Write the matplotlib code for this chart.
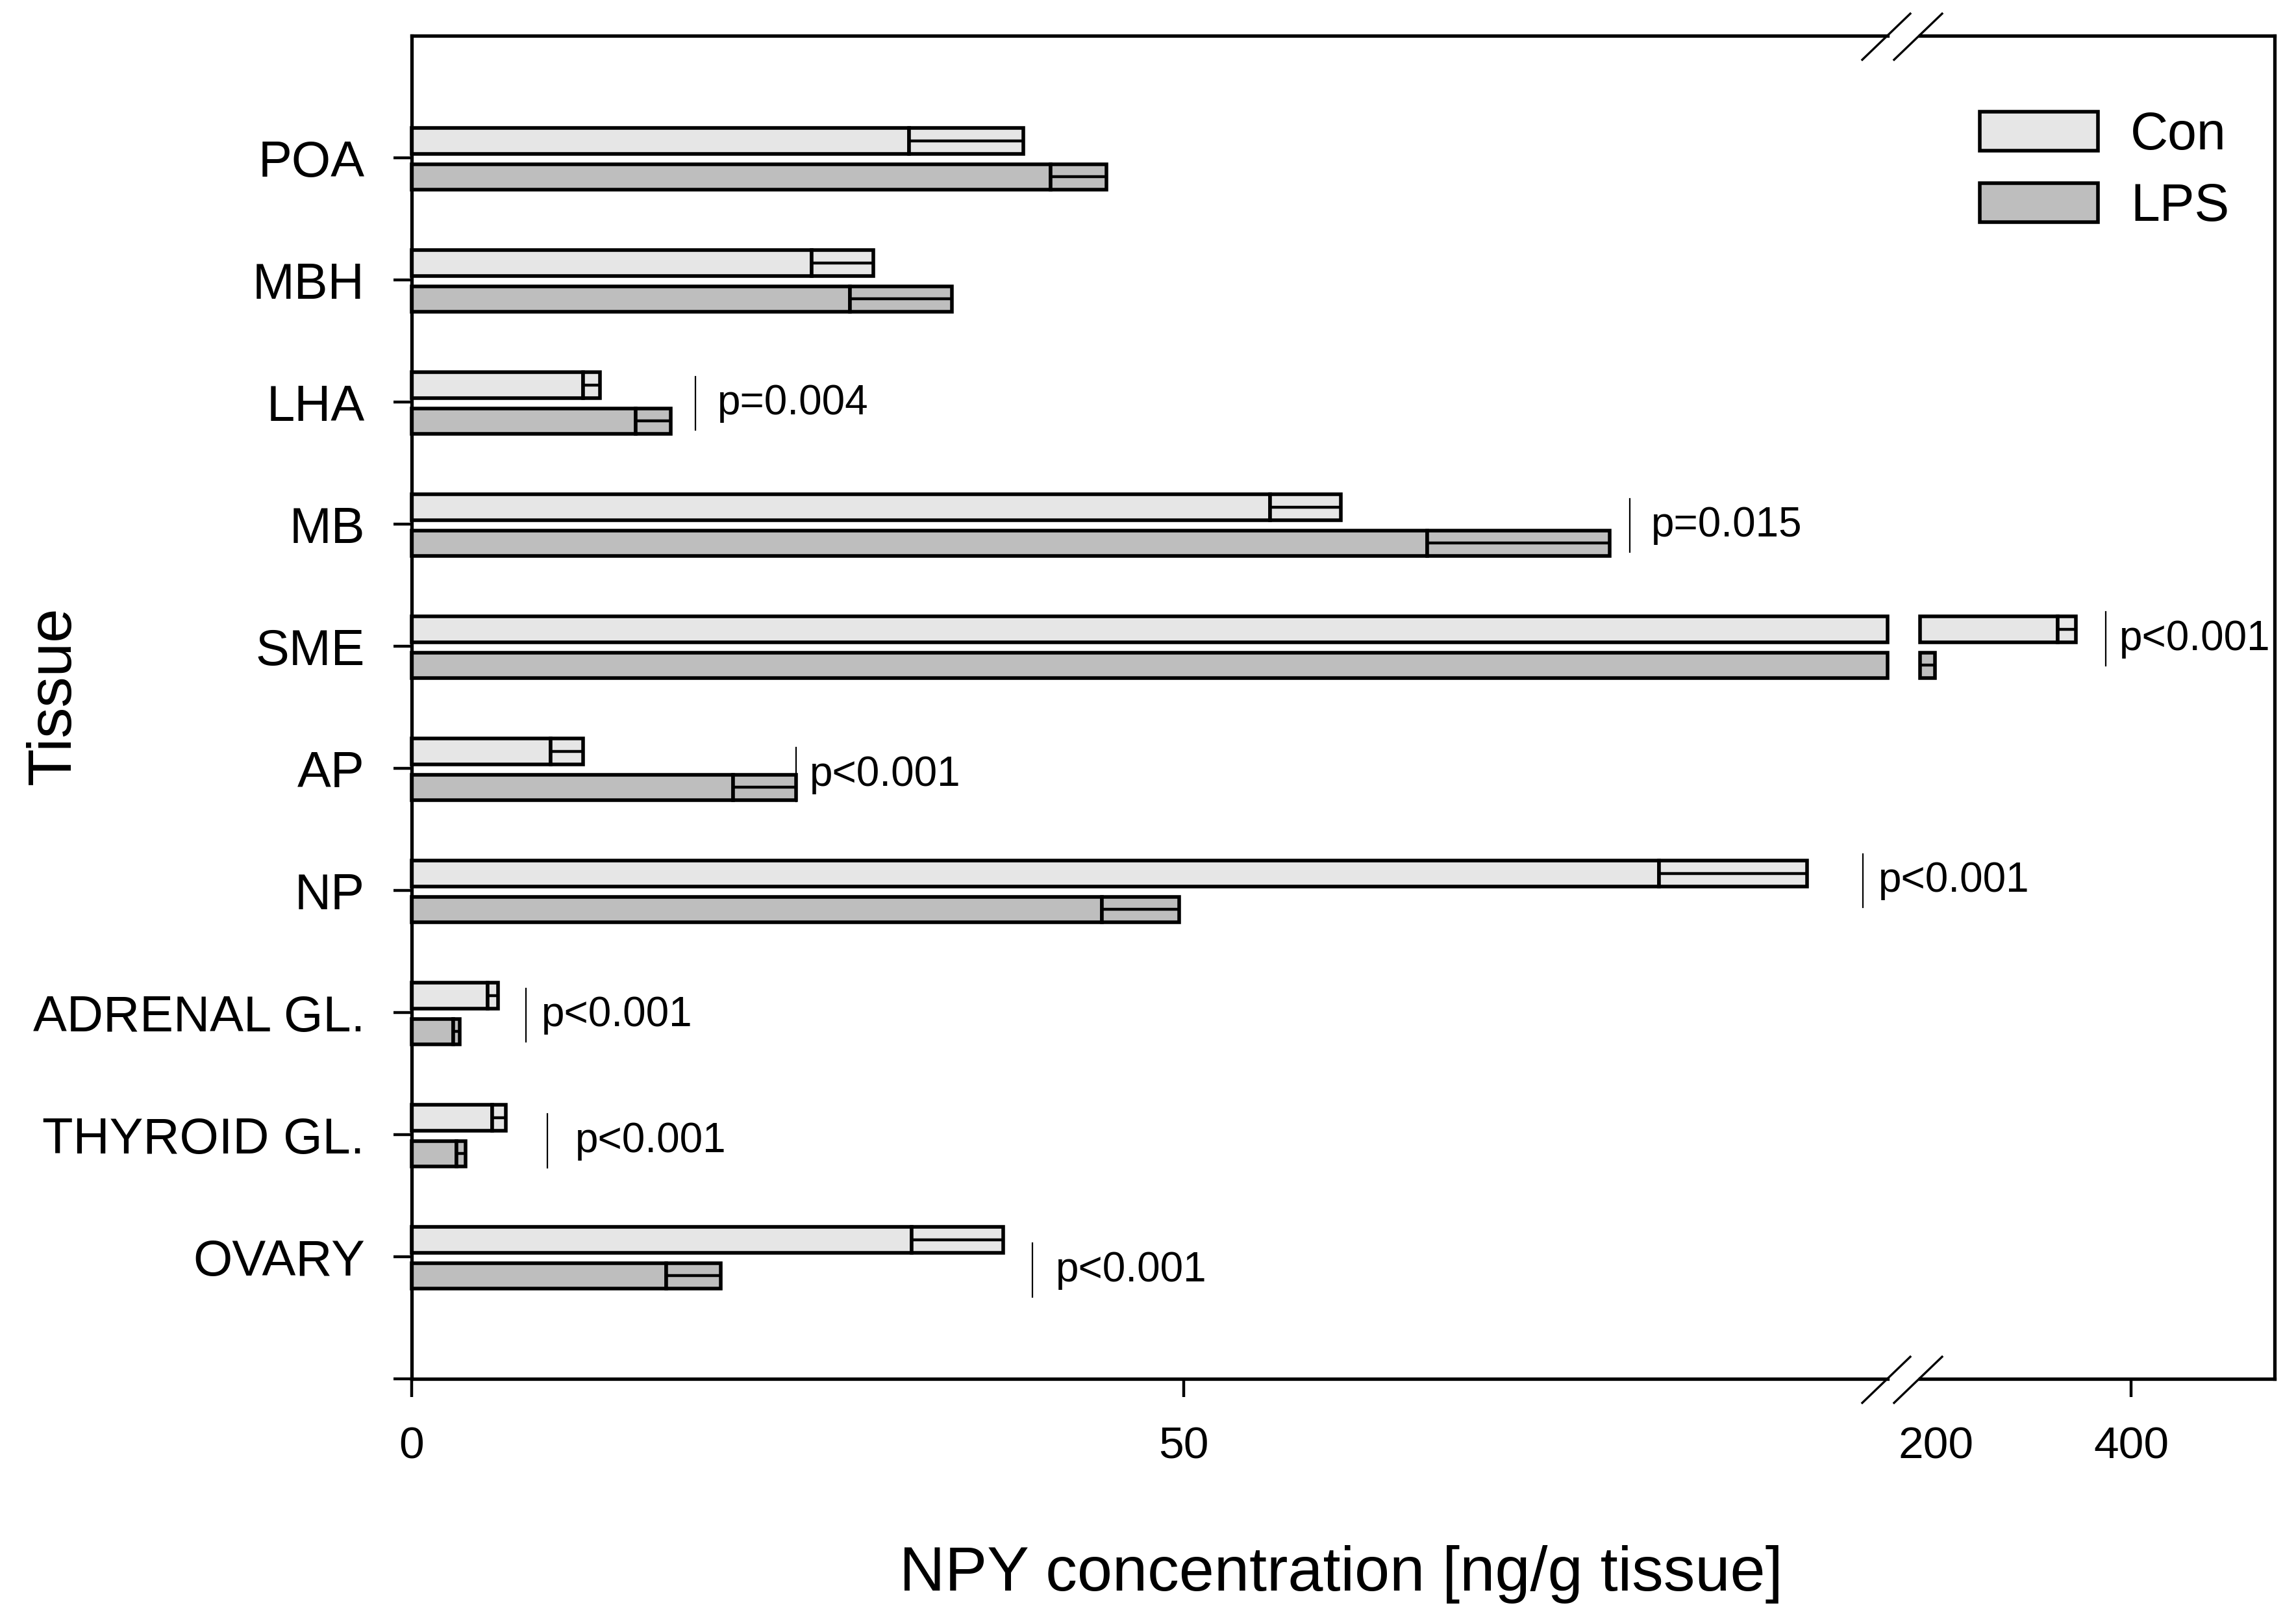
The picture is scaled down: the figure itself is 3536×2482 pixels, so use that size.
import numpy as np
import matplotlib
matplotlib.use("Agg")
import matplotlib.pyplot as plt
from matplotlib.patches import Patch
from matplotlib.lines import Line2D

plt.rcParams['font.family'] = ['Liberation Sans', 'DejaVu Sans']

# values (ng/g tissue), mean and SEM
tissues = ["POA", "MBH", "LHA", "MB", "SME", "AP", "NP",
           "ADRENAL GL.", "THYROID GL.", "OVARY"]
con_mean = [32.2, 25.9, 11.1, 55.6, 325.0, 9.0, 80.8, 4.9, 5.2, 32.4]
con_sem = [7.4, 4.0, 1.1, 4.6, 18.0, 2.1, 9.6, 0.7, 0.9, 5.9]
lps_mean = [41.4, 28.4, 14.5, 65.8, 182.0, 20.8, 44.7, 2.7, 2.9, 16.5]
lps_sem = [3.6, 6.6, 2.3, 11.8, 17.0, 4.1, 5.0, 0.4, 0.6, 3.5]

# significance notes
p_labels = [None, None, "p=0.004", "p=0.015", "p<0.001", "p<0.001",
            "p<0.001", "p<0.001", "p<0.001", "p<0.001"]
p_line_x = [None, None, 18.4, 78.9, 374.0, 24.9, 94.0, 7.4, 8.8, 40.2]
p_text_x = [None, None, 19.8, 80.3, 388.0, 25.8, 95.0, 8.4, 10.6, 41.7]
p_dy = [0, 0, 0.01, 0.01, -0.06, 0.05, -0.08, 0.02, 0.05, 0.11]

# broken x axis limits
left_lim = (0, 95.6)
right_lim = (183.5, 547.0)

con_color = "#e6e6e6"
lps_color = "#bebebe"
bar_h = 0.21

fig = plt.figure(figsize=(17.68, 12.41), dpi=200)
ax = fig.add_axes([0.1793, 0.1446, 0.8221 - 0.1793, 0.9778 - 0.1446])
ax2 = fig.add_axes([0.8362, 0.1446, 0.9907 - 0.8362, 0.9778 - 0.1446], sharey=ax)
ax2.patch.set_visible(False)

pos = np.arange(len(tissues))
bar_kw = dict(height=bar_h, edgecolor="k", linewidth=2.0, clip_on=False)
err_kw = dict(fmt="none", ecolor="k", elinewidth=1.6, capsize=0, clip_on=False)

for means, sems, off, col in [(con_mean, con_sem, -0.14, con_color),
                               (lps_mean, lps_sem, 0.155, lps_color)]:
    m = np.array(means)
    s = np.array(sems)
    e = m + s
    y = pos + off

    # lower segment
    lm = np.minimum(m, left_lim[1])
    le = np.minimum(e, left_lim[1])
    ax.barh(y, lm, color=col, **bar_kw)
    k = le > lm
    ax.barh(y[k], (le - lm)[k], left=lm[k], color=col, **bar_kw)
    ax.errorbar(lm[k], y[k], xerr=[np.zeros(k.sum()), (le - lm)[k]], **err_kw)

    # upper segment
    over = e > right_lim[0]
    rm = np.maximum(m[over], right_lim[0])
    ro = e[over]
    yo = y[over]
    k2 = rm > right_lim[0]
    ax2.barh(yo[k2], (rm - right_lim[0])[k2], left=right_lim[0], color=col, **bar_kw)
    ax2.barh(yo, ro - rm, left=rm, color=col, **bar_kw)
    ax2.errorbar(rm, yo, xerr=[np.zeros(len(rm)), ro - rm], **err_kw)

for i, lab in enumerate(p_labels):
    if lab is None:
        continue
    target = ax if p_line_x[i] < left_lim[1] else ax2
    yc = pos[i] + p_dy[i]
    target.plot([p_line_x[i], p_line_x[i]], [yc - 0.22, yc + 0.22],
                color="k", lw=0.8, clip_on=False)
    target.text(p_text_x[i], yc, lab, fontsize=23, va="center", ha="left",
                clip_on=False, zorder=5)

ax.set_xlim(*left_lim)
ax2.set_xlim(*right_lim)
ax.set_ylim(len(tissues), -1)
ax.set_yticks(np.arange(len(tissues) + 1))
ax.set_yticklabels(tissues + [""])
ax.set_xticks([0, 50])
ax2.set_xticks([200, 400])
ax2.xaxis.get_major_ticks()[0].tick1line.set_visible(False)

for a in (ax, ax2):
    for sp in a.spines.values():
        sp.set_linewidth(1.9)
    a.tick_params(axis="both", direction="out", length=10, width=1.6,
                  labelsize=25, colors="k")
    a.tick_params(axis="x", pad=16)
ax.tick_params(axis="y", labelsize=28, pad=16)
ax.spines["right"].set_visible(False)
ax2.spines["left"].set_visible(False)
ax2.tick_params(axis="y", left=False, labelleft=False)

fig.text(0.584, 0.0133, "NPY concentration [ng/g tissue]", fontsize=35,
         ha="center", va="baseline")
fig.text(0.0305, 0.5685, "Tissue", fontsize=34, rotation=90,
         rotation_mode="anchor", ha="center", va="baseline")

handles = [Patch(facecolor=con_color, edgecolor="k", linewidth=2.0, label="Con"),
           Patch(facecolor=lps_color, edgecolor="k", linewidth=2.0, label="LPS")]
fig.legend(handles=handles, loc="upper left", bbox_to_anchor=(0.8623, 0.931),
           frameon=False, fontsize=29, handlelength=2.26, handleheight=0.76,
           handletextpad=0.62, labelspacing=0.42, borderpad=0, borderaxespad=0)

# break marks on top and bottom spines
W, H = 3536.0, 2482.0
for ys in (55, 2123):
    for x0 in (2868, 2917):
        fig.add_artist(Line2D([x0 / W, (x0 + 74) / W],
                              [1 - (ys + 37) / H, 1 - (ys - 34) / H],
                              transform=fig.transFigure, color="k", lw=1.2))

fig.savefig("out.png", dpi=200, facecolor="white")
